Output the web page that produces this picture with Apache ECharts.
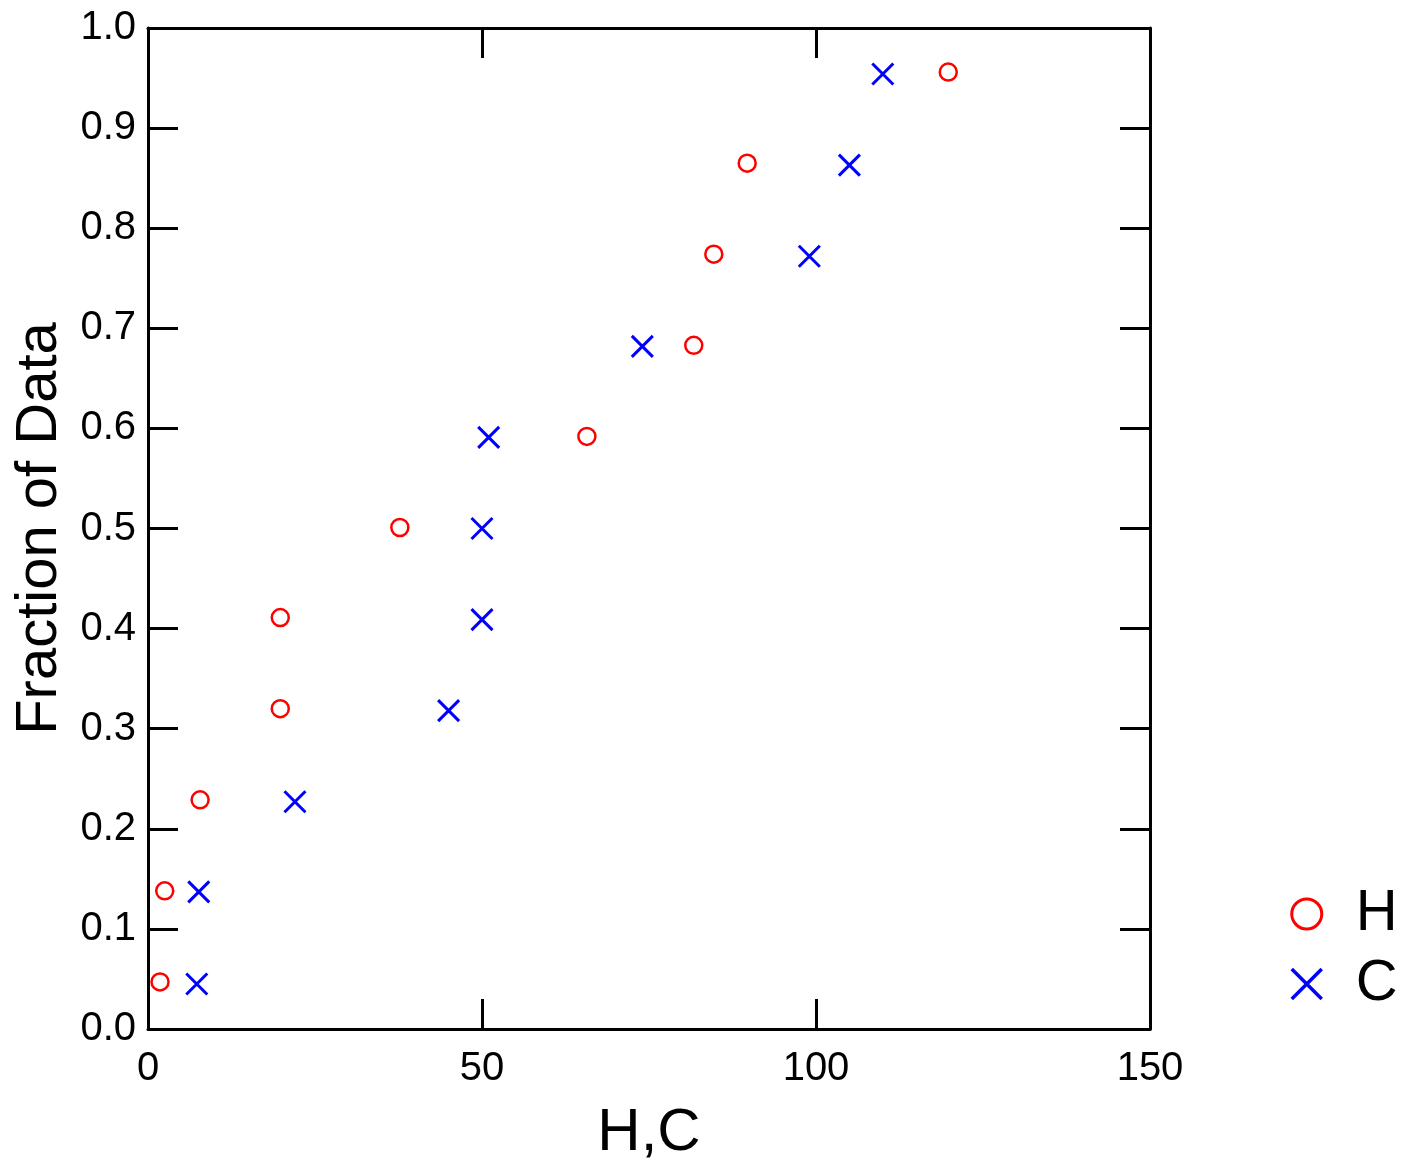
<!DOCTYPE html>
<html>
<head>
<meta charset="utf-8">
<script src="https://cdn.jsdelivr.net/npm/echarts@6/dist/echarts.min.js"></script>
<style>
html,body{margin:0;padding:0;background:#fff;}
#chart{width:1408px;height:1168px;}
</style>
</head>
<body>
<div id="chart"></div>
<script>
var seriesNames = ['H', 'C'];
var hX = [1.8, 2.5, 7.8, 19.8, 19.8, 37.7, 65.7, 81.7, 84.7, 89.7, 119.8];
var hY = [0.047, 0.138, 0.229, 0.320, 0.411, 0.501, 0.592, 0.683, 0.774, 0.865, 0.956];
var cX = [7.3, 7.6, 22.0, 45.0, 50.0, 50.0, 51.0, 74.0, 99.0, 105.0, 110.0];
var cY = [0.045, 0.137, 0.227, 0.318, 0.409, 0.500, 0.591, 0.682, 0.772, 0.863, 0.954];
var xTicks = [0, 50, 100, 150];
var yTicks = [0.0, 0.1, 0.2, 0.3, 0.4, 0.5, 0.6, 0.7, 0.8, 0.9, 1.0];

function pairs(xs, ys) { return xs.map(function (x, i) { return [x, ys[i]]; }); }

var FONT = '"Liberation Sans", Arial, sans-serif';
var axisLineCfg = { show: true, onZero: false, lineStyle: { color: '#000', width: 3 } };
var tickStyle = { show: true, inside: true, length: 30, lineStyle: { color: '#000', width: 3 } };

var chart = echarts.init(document.getElementById('chart'), null, { renderer: 'canvas' });
chart.setOption({
  animation: false,
  backgroundColor: '#fff',
  grid: { left: 148, top: 28, right: 258, bottom: 139, containLabel: false, outerBoundsMode: 'none' },
  xAxis: [
    {
      type: 'value', position: 'bottom', min: xTicks[0], max: xTicks[xTicks.length - 1], interval: 50,
      name: 'H,C', nameLocation: 'middle', nameGap: 74,
      nameTextStyle: { fontFamily: FONT, fontSize: 60, color: '#000' },
      axisLine: axisLineCfg,
      axisTick: tickStyle,
      axisLabel: { fontFamily: FONT, fontSize: 40, color: '#000', margin: 20 },
      splitLine: { show: false }
    },
    {
      type: 'value', position: 'top', min: xTicks[0], max: xTicks[xTicks.length - 1], interval: 50,
      axisLine: axisLineCfg,
      axisTick: tickStyle,
      axisLabel: { show: false },
      splitLine: { show: false }
    }
  ],
  yAxis: [
    {
      type: 'value', position: 'left', min: yTicks[0], max: yTicks[yTicks.length - 1], interval: 0.1,
      name: 'Fraction of Data', nameLocation: 'middle', nameGap: 76, nameRotate: 90,
      nameTextStyle: { fontFamily: FONT, fontSize: 58, color: '#000' },
      axisLine: axisLineCfg,
      axisTick: tickStyle,
      axisLabel: { fontFamily: FONT, fontSize: 40, color: '#000', margin: 12,
        formatter: function (v) { return v.toFixed(1); } },
      splitLine: { show: false }
    },
    {
      type: 'value', position: 'right', min: yTicks[0], max: yTicks[yTicks.length - 1], interval: 0.1,
      axisLine: axisLineCfg,
      axisTick: tickStyle,
      axisLabel: { show: false },
      splitLine: { show: false }
    }
  ],
  legend: {
    orient: 'vertical', left: 1285, top: 880,
    itemWidth: 80, itemHeight: 30, itemGap: 12,
    textStyle: { fontFamily: FONT, fontSize: 58, color: '#000', padding: [0, 0, 0, 4] },
    data: [
      { name: seriesNames[0], icon: 'circle', itemStyle: { color: 'rgba(0,0,0,0)', borderColor: '#ff0000', borderWidth: 3 } },
      { name: seriesNames[1], icon: 'path://M0,0L10,10M10,0L0,10', itemStyle: { color: 'rgba(0,0,0,0)', borderColor: '#0000ff', borderWidth: 3.5 } }
    ]
  },
  series: [
    {
      name: seriesNames[0], type: 'scatter', xAxisIndex: 0, yAxisIndex: 0,
      symbol: 'circle', symbolSize: 17,
      itemStyle: { color: 'rgba(0,0,0,0)', borderColor: '#ff0000', borderWidth: 2.5, opacity: 1 },
      data: pairs(hX, hY)
    },
    {
      name: seriesNames[1], type: 'scatter', xAxisIndex: 0, yAxisIndex: 0,
      symbol: 'path://M0,0L10,10M10,0L0,10', symbolSize: 21,
      itemStyle: { color: 'rgba(0,0,0,0)', borderColor: '#0000ff', borderWidth: 3, opacity: 1 },
      data: pairs(cX, cY)
    }
  ]
});
</script>
</body>
</html>
